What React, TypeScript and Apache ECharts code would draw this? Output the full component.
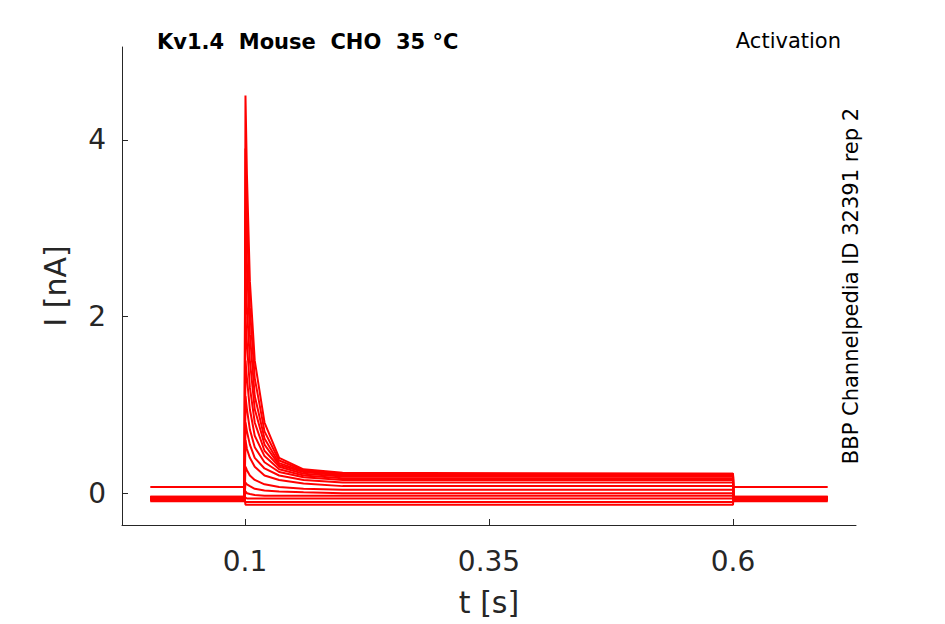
import React, { useEffect, useRef } from "react";
import * as echarts from "echarts";

// sample times (s) shared by every trace
const times = [0.003, 0.0995, 0.1005, 0.102, 0.105, 0.11, 0.12, 0.135, 0.16, 0.2, 0.6, 0.6005, 0.697];

// current traces (nA), one per voltage step
const traces = [
  [0.07, 0.07, 4.5, 3.6, 2.4, 1.5, 0.8, 0.4, 0.27, 0.23, 0.22, 0.07, 0.07],
  [-0.05, -0.05, 3.9, 3.1, 2.1, 1.3, 0.7, 0.37, 0.26, 0.22, 0.22, -0.05, -0.05],
  [-0.06, -0.06, 3.2, 2.6, 1.8, 1.1, 0.62, 0.34, 0.25, 0.21, 0.21, -0.06, -0.06],
  [-0.04, -0.04, 2.6, 2.1, 1.5, 0.95, 0.55, 0.32, 0.24, 0.2, 0.2, -0.04, -0.04],
  [-0.07, -0.07, 2.0, 1.7, 1.2, 0.8, 0.48, 0.3, 0.22, 0.19, 0.19, -0.07, -0.07],
  [-0.05, -0.05, 1.5, 1.3, 0.95, 0.65, 0.42, 0.27, 0.2, 0.17, 0.17, -0.05, -0.05],
  [-0.08, -0.08, 1.1, 0.95, 0.72, 0.52, 0.35, 0.24, 0.18, 0.15, 0.15, -0.08, -0.08],
  [-0.06, -0.06, 0.8, 0.7, 0.55, 0.4, 0.28, 0.2, 0.15, 0.12, 0.12, -0.06, -0.06],
  [-0.04, -0.04, 0.6, 0.5, 0.4, 0.3, 0.2, 0.15, 0.11, 0.08, 0.08, -0.04, -0.04],
  [-0.09, -0.09, 0.3, 0.26, 0.2, 0.15, 0.1, 0.07, 0.05, 0.04, 0.04, -0.09, -0.09],
  [-0.05, -0.05, 0.12, 0.1, 0.08, 0.05, 0.03, 0.02, 0.01, 0.0, 0.0, -0.05, -0.05],
  [-0.07, -0.07, 0.02, 0.0, -0.01, -0.02, -0.03, -0.03, -0.03, -0.03, -0.03, -0.07, -0.07],
  [-0.06, -0.06, -0.05, -0.06, -0.06, -0.06, -0.06, -0.06, -0.06, -0.06, -0.06, -0.06, -0.06],
  [-0.08, -0.08, -0.1, -0.1, -0.1, -0.1, -0.1, -0.1, -0.1, -0.1, -0.1, -0.08, -0.08],
  [-0.05, -0.05, -0.13, -0.13, -0.13, -0.13, -0.13, -0.13, -0.13, -0.13, -0.13, -0.05, -0.05],
];

const xTicks = [0.1, 0.35, 0.6];
const yTicks = [0, 2, 4];

const App = () => {
  const chartRef = useRef(null);

  useEffect(() => {
    const myChart = echarts.init(chartRef.current, null, { renderer: "svg" });
    const font = "DejaVu Sans";
    const option = {
      animation: false,
      textStyle: { fontFamily: font },
      grid: { left: 114, right: 81, top: 39, bottom: 99, outerBoundsMode: "none" },
      title: [
        {
          text: "Kv1.4  Mouse  CHO  35 °C",
          left: 144,
          top: 18,
          textStyle: { fontSize: 21, fontWeight: "bold", color: "#000", fontFamily: font },
        },
        {
          text: "Activation",
          right: 91,
          top: 17,
          textStyle: { fontSize: 21, fontWeight: "normal", color: "#000", fontFamily: font },
        },
      ],
      graphic: [
        {
          type: "text",
          x: 853,
          y: 278,
          rotation: Math.PI / 2,
          style: {
            text: "BBP Channelpedia ID 32391 rep 2",
            fontSize: 21,
            fontFamily: font,
            fill: "#000",
            align: "center",
            verticalAlign: "bottom",
          },
        },
      ],
      xAxis: {
        type: "value",
        min: -0.026,
        max: 0.726,
        name: "t [s]",
        nameLocation: "middle",
        nameGap: 62,
        nameTextStyle: { fontSize: 30, color: "#262626" },
        axisLine: { onZero: false, lineStyle: { color: "#262626" } },
        axisTick: { inside: true, length: 6, customValues: xTicks },
        axisLabel: { fontSize: 28, color: "#262626", margin: 22, customValues: xTicks },
        splitLine: { show: false },
      },
      yAxis: {
        type: "value",
        min: -0.36,
        max: 5.05,
        name: "I [nA]",
        nameLocation: "middle",
        nameGap: 52,
        nameTextStyle: { fontSize: 30, color: "#262626" },
        axisLine: { show: true, onZero: false, lineStyle: { color: "#262626" } },
        axisTick: { show: true, inside: true, length: 6, customValues: yTicks },
        axisLabel: { fontSize: 28, color: "#262626", margin: 16, customValues: yTicks },
        splitLine: { show: false },
      },
      series: traces.map((tr) => ({
        type: "line",
        data: tr.map((v, i) => [times[i], v]),
        showSymbol: false,
        lineStyle: { color: "#ff0000", width: 2 },
      })),
    };
    myChart.setOption(option);
    return () => {
      myChart.dispose();
    };
  }, []);

  return <div ref={chartRef} style={{ width: "929px", height: "616px" }}></div>;
};

export default App;
